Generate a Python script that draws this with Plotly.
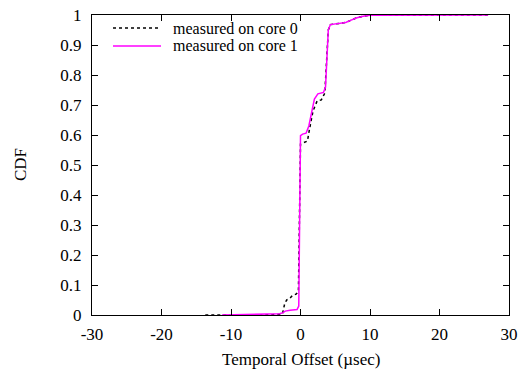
import plotly.graph_objects as go

# core 0 (black dotted)
x_core0 = [-13.7, -8.0, -4.0, -2.6, -2.3, -2.0, -1.5, -1.2, -0.6, -0.3, -0.2, -0.1, 0.0, 0.5, 1.0, 1.3, 1.8, 2.4, 3.0, 3.5, 3.8, 4.0, 4.3, 5.0, 5.8, 6.5, 7.2, 8.0, 9.0, 10.0, 27.0]
y_core0 = [0.0, 0.0, 0.001, 0.003, 0.035, 0.05, 0.056, 0.064, 0.07, 0.08, 0.2, 0.45, 0.57, 0.575, 0.58, 0.62, 0.68, 0.714, 0.717, 0.74, 0.85, 0.95, 0.968, 0.971, 0.972, 0.975, 0.982, 0.99, 0.996, 0.999, 1.0]

# core 1 (magenta)
x_core1 = [-11.3, -5.0, -3.0, -2.5, -2.2, -1.5, -0.5, -0.25, -0.15, -0.05, 0.0, 0.3, 0.8, 1.2, 1.6, 2.0, 2.5, 3.3, 3.6, 3.8, 4.0, 4.3, 5.0, 5.8, 6.5, 7.2, 8.0, 9.0, 10.0, 27.0]
y_core1 = [0.0, 0.002, 0.004, 0.008, 0.013, 0.016, 0.018, 0.03, 0.2, 0.5, 0.598, 0.603, 0.606, 0.63, 0.68, 0.72, 0.737, 0.742, 0.76, 0.85, 0.95, 0.968, 0.971, 0.972, 0.975, 0.982, 0.99, 0.996, 0.999, 1.0]

x_ticks = [-30, -20, -10, 0, 10, 20, 30]
x_tick_labels = ["-30", "-20", "-10", "0", "10", "20", "30"]
y_ticks = [0, 0.1, 0.2, 0.3, 0.4, 0.5, 0.6, 0.7, 0.8, 0.9, 1]
y_tick_labels = ["0", "0.1", "0.2", "0.3", "0.4", "0.5", "0.6", "0.7", "0.8", "0.9", "1"]

series_names = ["measured on core 0", "measured on core 1"]
series_colors = ["black", "#ff00ff"]
series_dash = ["dot", "solid"]

W, H = 519, 371
L, R, T, B = 92, 10, 15, 56
PW, PH = W - L - R, H - T - B

font = dict(family="Liberation Serif, Times New Roman, serif", size=17, color="black")
legend_font = dict(family="Liberation Serif, Times New Roman, serif", size=16, color="black")

fig = go.Figure()
for xs, ys, name, col, dash in [(x_core0, y_core0, series_names[0], series_colors[0], series_dash[0]),
                                (x_core1, y_core1, series_names[1], series_colors[1], series_dash[1])]:
    fig.add_trace(go.Scatter(x=xs, y=ys, mode="lines", name=name, showlegend=False,
                             line=dict(color=col, width=1.5, dash=dash)))

axis_common = dict(showline=True, linecolor="black", linewidth=1, mirror="ticks",
                   ticks="inside", ticklen=6, tickcolor="black", showgrid=False,
                   zeroline=False, tickfont=font, automargin=False)

# legend drawn inside the plot (top-left)
def px_x(p):
    return (p - L) / PW

def px_y(p):
    return 1 - (p - T) / PH

shapes = []
annotations = []
for i, (name, col, dash) in enumerate(zip(series_names, series_colors, series_dash)):
    yy = 28 + 18 * i
    shapes.append(dict(type="line", xref="paper", yref="paper",
                       x0=px_x(113), x1=px_x(161), y0=px_y(yy), y1=px_y(yy),
                       line=dict(color=col, width=1.5, dash=dash)))
    annotations.append(dict(text=name, xref="paper", yref="paper", x=px_x(171), y=px_y(yy),
                            xanchor="left", yanchor="middle", showarrow=False, font=legend_font))

annotations.append(dict(text="Temporal Offset (µsec)", xref="paper", yref="paper",
                        x=0.5, y=px_y(359), xanchor="center", yanchor="middle",
                        showarrow=False, font=font))
annotations.append(dict(text="CDF", xref="paper", yref="paper", x=px_x(20), y=px_y(165),
                        xanchor="center", yanchor="middle", textangle=-90,
                        showarrow=False, font=font))

fig.update_layout(
    width=W, height=H,
    margin=dict(l=L, r=R, t=T, b=B),
    paper_bgcolor="white", plot_bgcolor="white",
    font=font,
    xaxis=dict(range=[-30, 30], tickvals=x_ticks, ticktext=x_tick_labels, ticklabelstandoff=4, **axis_common),
    yaxis=dict(range=[0, 1], tickvals=y_ticks, ticktext=y_tick_labels, ticklabelstandoff=6, **axis_common),
    shapes=shapes,
    annotations=annotations,
    showlegend=False,
)

fig.write_html("out.html")
